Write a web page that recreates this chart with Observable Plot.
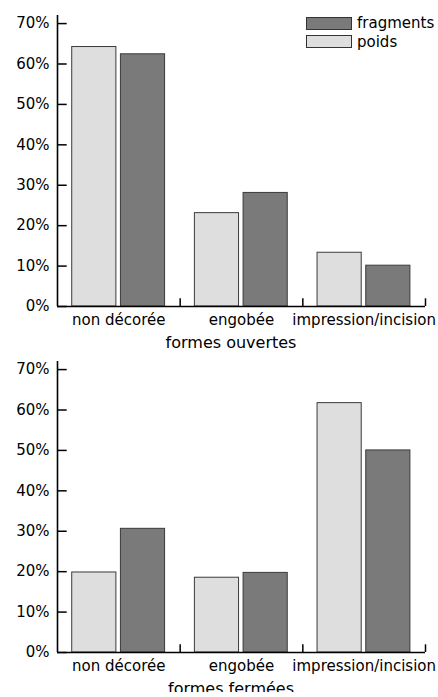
<!DOCTYPE html>
<html>
<head>
<meta charset="utf-8">
<script src="https://cdn.jsdelivr.net/npm/d3@7"></script>
<script src="https://cdn.jsdelivr.net/npm/@observablehq/plot@0.6"></script>
<style>
  body { margin: 0; background: #fff; }
  #wrap { position: relative; width: 438px; }
  #wrap svg { display: block; overflow: visible; }
  .legend { position: absolute; left: 306px; top: 14px; font: 15px "DejaVu Sans", sans-serif; color: #000; }
  .legend .row { display: flex; align-items: center; height: 18.4px; }
  .legend .sw { width: 44px; height: 11px; border: 1px solid #333; margin-right: 5px; }
</style>
</head>
<body>
<div id="wrap"></div>
<script>
// ---- data ----
const categories = ["non décorée", "engobée", "impression/incision"];
const series = ["poids", "fragments"];
const ouvertesPoids = [64.2, 23.1, 13.3];
const ouvertesFragments = [62.4, 28.1, 10.1];
const fermeesPoids = [19.8, 18.5, 61.7];
const fermeesFragments = [30.6, 19.7, 50.0];
const yTicks = [0, 10, 20, 30, 40, 50, 60, 70];
const titles = ["formes ouvertes", "formes fermées"];
const legendOrder = ["fragments", "poids"];
const seriesColors = ["#dedede", "#7a7a7a"];

// slot of each series inside a category band (fraction of the band)
const slot = { poids: [0.12, 0.48], fragments: [0.517, 0.877] };

function chart(poids, fragments, title) {
  const values = { poids, fragments };
  const rows = categories.flatMap((c, i) =>
    series.map(s => ({ cat: c, i, series: s, value: values[s][i] })));
  return Plot.plot({
    width: 438, height: 346,
    marginTop: 15, marginBottom: 40, marginLeft: 57, marginRight: 13,
    style: { fontFamily: "DejaVu Sans", fontSize: "15px", color: "#000", background: "transparent", overflow: "visible" },
    x: { domain: [0, categories.length], label: null },
    y: { domain: [0, 72], label: null },
    color: { domain: series, range: seriesColors },
    marks: [
      Plot.rectY(rows, {
        x1: d => d.i + slot[d.series][0],
        x2: d => d.i + slot[d.series][1],
        y1: 0, y2: "value",
        fill: "series", stroke: "#3a3a3a", strokeWidth: 1
      }),
      Plot.ruleY(yTicks, { x1: 0, x2: 0.079, stroke: "#000", strokeWidth: 1.5 }),
      Plot.ruleX(categories.map((c, i) => i + 1), { y1: 0, y2: 1.9, stroke: "#000", strokeWidth: 1.5 }),
      Plot.ruleX([0], { stroke: "#000", strokeWidth: 1.6 }),
      Plot.ruleY([0], { stroke: "#000", strokeWidth: 1.6 }),
      Plot.axisY(yTicks, { anchor: "left", tickSize: 0, tickPadding: 8, label: null, fontSize: 15, tickFormat: d => d + "%" }),
      Plot.axisX(categories.map((c, i) => i + 0.5), {
        anchor: "bottom", tickSize: 0, tickPadding: 8, label: null, fontSize: 15,
        tickFormat: v => categories[Math.floor(v)]
      }),
      Plot.text([title], { frameAnchor: "bottom", dy: 41.5, dx: -10.5, lineAnchor: "bottom", fontSize: 16, text: d => d })
    ]
  });
}

const wrap = document.getElementById("wrap");
wrap.appendChild(chart(ouvertesPoids, ouvertesFragments, titles[0]));
wrap.appendChild(chart(fermeesPoids, fermeesFragments, titles[1]));

// legend (inside the top chart)
const legend = document.createElement("div");
legend.className = "legend";
const colorOf = s => seriesColors[series.indexOf(s)];
for (const s of legendOrder) {
  const row = document.createElement("div");
  row.className = "row";
  const sw = document.createElement("div");
  sw.className = "sw";
  sw.style.background = colorOf(s);
  const lab = document.createElement("span");
  lab.textContent = s;
  row.appendChild(sw);
  row.appendChild(lab);
  legend.appendChild(row);
}
wrap.appendChild(legend);
</script>
</body>
</html>
